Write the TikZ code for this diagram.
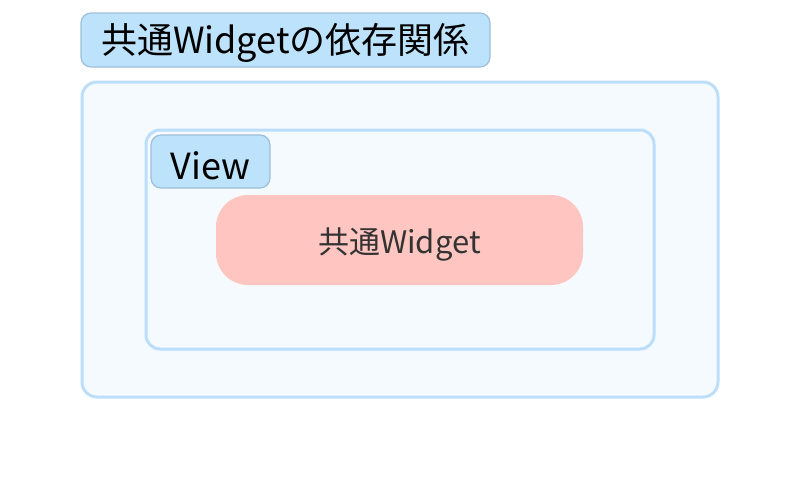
\documentclass[tikz,border=0pt]{standalone}
\usepackage{fontspec}
\setmainfont{Noto Sans CJK JP}
\usetikzlibrary{positioning}
\definecolor{frameblue}{HTML}{BBDEFB}
\definecolor{framefill}{HTML}{F5FAFE}
\definecolor{labelfill}{HTML}{BDE2FB}
\definecolor{labelline}{HTML}{9EBFD8}
\definecolor{widgetred}{HTML}{FFC6C1}
\definecolor{textdark}{HTML}{333333}
\newcommand{\lowered}[2]{\raisebox{-#1}[\height][\depth]{#2}}
\begin{document}
\begin{tikzpicture}[x=1pt, y=-1pt]
        \tikzstyle{frame}=[draw=frameblue, fill=framefill, line width=3pt, rounded corners=15pt, inner sep=0pt]
        \tikzstyle{tag}=[draw=labelline, fill=labelfill, line width=1.2pt, rounded corners=10pt, inner sep=0pt]
        \useasboundingbox (0,0) rectangle (800,480);

        % Outer group and its title
        \node[frame, minimum width=636pt, minimum height=315pt] (outer) at (400,239.5) {};
        \node[tag, minimum width=409pt, minimum height=54pt, font=\fontsize{36pt}{40pt}\selectfont] (title) at (285.5,40) {\lowered{3pt}{共通Widgetの依存関係}};

        % View group
        \node[frame, rounded corners=14pt, minimum width=508pt, minimum height=219pt] (view) at (400,239.5) {};
        \node[tag, minimum width=119pt, minimum height=53pt, font=\fontsize{36pt}{40pt}\selectfont] (viewtag) at (210.5,161.5) {\lowered{4pt}{View}};

        % The shared widget
        \node[fill=widgetred, rounded corners=32pt, minimum width=367pt, minimum height=90pt, inner sep=0pt, text=textdark, font=\fontsize{31pt}{36pt}\selectfont] (widget) at (399.5,240) {\lowered{4pt}{共通Widget}};
\end{tikzpicture}
\end{document}
